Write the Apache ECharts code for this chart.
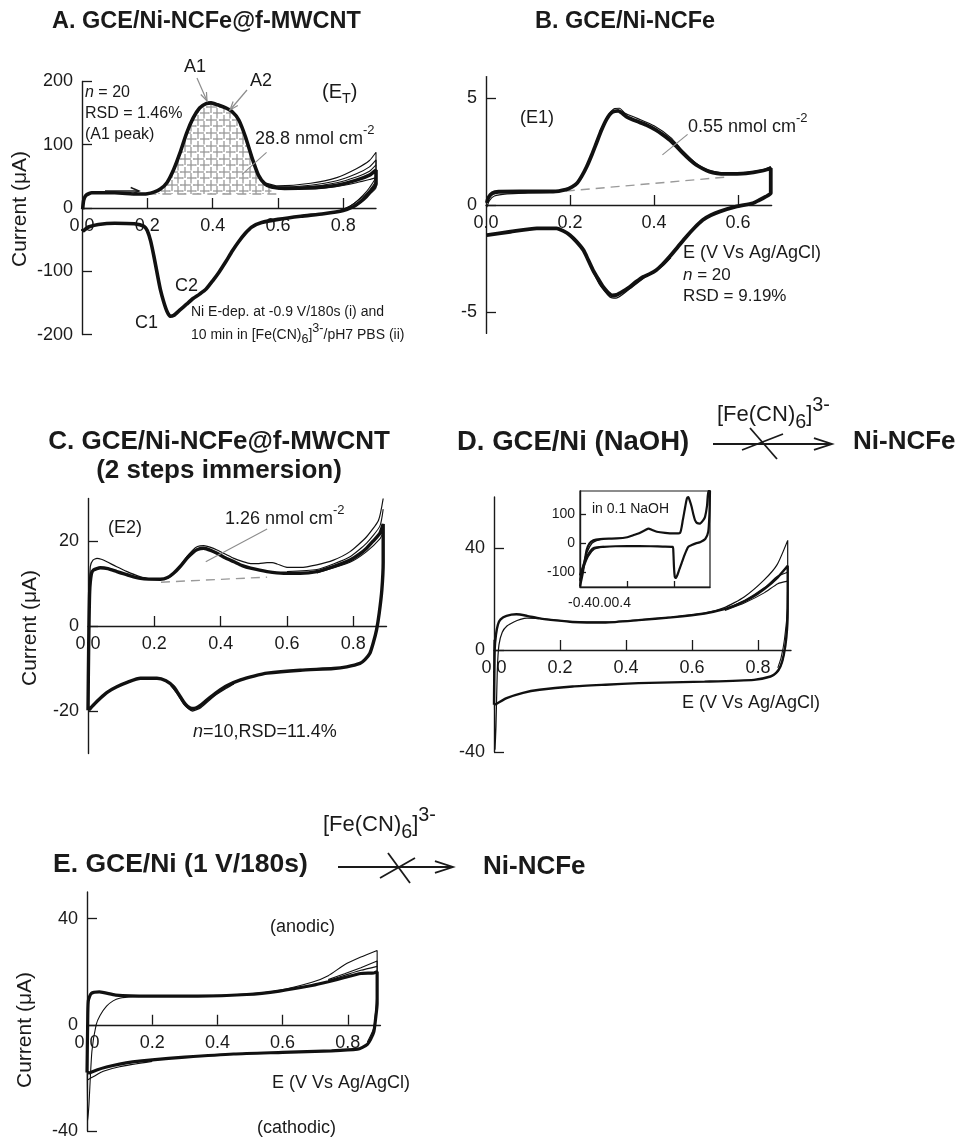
<!DOCTYPE html>
<html><head><meta charset="utf-8">
<script src="https://cdn.jsdelivr.net/npm/echarts@6/dist/echarts.min.js"></script>
<style>html,body{margin:0;padding:0;background:#fff}#c{width:961px;height:1144px}</style>
</head><body><div id="c"></div>
<script>
// ================= DATA =================
// tick values
const xTicks09 = [0.0, 0.2, 0.4, 0.6, 0.8];
const xTicksB = [0.0, 0.2, 0.4, 0.6];
const yTicksA = [-200, -100, 0, 100, 200];
const yTicksB = [-5, 0, 5];
const yTicksC = [-20, 0, 20];
const yTicksD = [-40, 0, 40];
const yTicksE = [-40, 0, 40];
const yTicksInset = [-100, 0, 100];
const xTicksInset = [-0.4, 0.0, 0.4];
const insetXTickText = '-0.40.00.4';

// Panel A  (E [V], I [uA])
const aAnodic = [[0.002,-2],[0.005,12],[0.012,20],[0.03,24],[0.1,24],[0.17,22],[0.2,22.5],[0.22,25],[0.24,30],[0.26,40],[0.28,60],[0.30,87],[0.32,118],[0.34,142],[0.36,158],[0.38,165],[0.395,166],[0.415,163],[0.44,158],[0.46,152],[0.48,139],[0.50,113],[0.52,80],[0.54,52],[0.56,38],[0.58,33],[0.62,31],[0.7,32],[0.78,36],[0.84,44],[0.88,52],[0.9,60]];
const aCathodic = [[0.9,38],[0.885,27],[0.87,18],[0.85,9],[0.83,2],[0.8,-4],[0.74,-9],[0.67,-13],[0.6,-18],[0.55,-23],[0.52,-30],[0.5,-40],[0.48,-53],[0.46,-68],[0.44,-85],[0.42,-101],[0.40,-115],[0.38,-128],[0.36,-136],[0.34,-143],[0.32,-152],[0.30,-161],[0.28,-170],[0.27,-171],[0.26,-163],[0.25,-148],[0.24,-129],[0.23,-103],[0.22,-76],[0.21,-52],[0.2,-36],[0.19,-29],[0.16,-25],[0.1,-24],[0.05,-26],[0.02,-30],[0.002,-37]];
const aTail1 = [[0.56,40],[0.6,35],[0.7,39],[0.78,48],[0.84,62],[0.88,75],[0.9,88],[0.9,50],[0.88,32],[0.86,20],[0.83,6],[0.8,-2]];
const aTail2 = [[0.56,39],[0.6,33],[0.7,36],[0.78,43],[0.84,54],[0.88,65],[0.9,76],[0.9,45],[0.88,28],[0.85,14],[0.82,3],[0.79,-4]];
const aTail3 = [[0.6,32],[0.7,34],[0.78,40],[0.84,49],[0.88,58],[0.9,68]];
const aTail4 = [[0.6,30],[0.7,30],[0.78,34],[0.84,40],[0.88,45],[0.9,48],[0.9,32],[0.88,22]];
const aBaseline = [[0.2,22],[0.6,22]];
const aLeader = [[0.565,88],[0.49,53]];

// Panel B
const bAnodic = [[0.002,0.1],[0.006,0.35],[0.015,0.55],[0.03,0.62],[0.08,0.63],[0.16,0.63],[0.19,0.72],[0.205,0.85],[0.216,1.0],[0.228,1.35],[0.24,1.8],[0.252,2.35],[0.263,2.9],[0.275,3.5],[0.287,4.0],[0.3,4.33],[0.315,4.4],[0.325,4.28],[0.335,4.12],[0.358,3.92],[0.382,3.74],[0.405,3.5],[0.42,3.3],[0.437,3.05],[0.453,2.75],[0.469,2.42],[0.485,2.12],[0.5,1.88],[0.516,1.7],[0.532,1.56],[0.55,1.48],[0.57,1.45],[0.619,1.48],[0.658,1.6],[0.678,1.72]];
const bCathodic = [[0.678,1.2],[0.678,0.55],[0.666,0.39],[0.65,0.22],[0.635,0.08],[0.595,-0.08],[0.556,-0.31],[0.535,-0.48],[0.516,-0.7],[0.497,-1.05],[0.477,-1.48],[0.457,-1.95],[0.437,-2.42],[0.42,-2.78],[0.405,-3.05],[0.39,-3.22],[0.374,-3.36],[0.358,-3.58],[0.342,-3.83],[0.325,-4.05],[0.311,-4.2],[0.3,-4.22],[0.29,-4.08],[0.279,-3.83],[0.267,-3.45],[0.255,-3.05],[0.243,-2.55],[0.232,-2.11],[0.215,-1.7],[0.2,-1.41],[0.185,-1.22],[0.168,-1.09],[0.121,-1.09],[0.058,-1.25],[0.002,-1.41]];
const bPeakVar = [[0.27,3.4],[0.29,4.15],[0.305,4.5],[0.318,4.52],[0.33,4.3],[0.36,4.05],[0.4,3.7],[0.44,3.15],[0.47,2.5],[0.5,1.95],[0.53,1.62],[0.57,1.5],[0.62,1.52],[0.66,1.65],[0.678,1.8]];
const bStartVar = [[0.002,-0.1],[0.008,0.2],[0.02,0.42],[0.05,0.52],[0.1,0.56],[0.17,0.6]];
const bCathVar = [[0.44,-2.45],[0.42,-2.85],[0.38,-3.35],[0.34,-3.95],[0.31,-4.35],[0.295,-4.3],[0.27,-3.7],[0.25,-2.9]];
const bBaseline = [[0.19,0.65],[0.575,1.31]];
const bLeader = [[0.48,3.3],[0.42,2.34]];

// Panel C
const cAnodic = [[0.0,-19.8],[0.002,-5],[0.005,8],[0.01,12.2],[0.017,13.2],[0.037,13.7],[0.06,13.5],[0.087,12.8],[0.12,12],[0.158,11.2],[0.218,11],[0.24,11.4],[0.258,12.4],[0.278,14],[0.298,15.9],[0.315,17.2],[0.33,18],[0.349,18.3],[0.37,17.8],[0.389,17.1],[0.415,16],[0.44,15.1],[0.465,14.2],[0.49,13.6],[0.54,12.8],[0.59,12.4],[0.64,12.4],[0.69,12.8],[0.74,14],[0.79,15.5],[0.82,17],[0.84,18.3],[0.86,20],[0.88,21.8],[0.89,24]];
const cCathodic = [[0.89,24],[0.89,15],[0.886,8.5],[0.878,3],[0.87,-0.9],[0.86,-4],[0.85,-6.4],[0.835,-7.9],[0.82,-8.8],[0.78,-9.6],[0.74,-10],[0.64,-10.4],[0.54,-11.1],[0.5,-11.8],[0.46,-12.7],[0.42,-14],[0.39,-15.5],[0.36,-17.3],[0.34,-18.6],[0.325,-19.3],[0.313,-19.4],[0.3,-18.9],[0.288,-17.8],[0.273,-16],[0.258,-14.3],[0.235,-12.9],[0.208,-12.3],[0.158,-12.3],[0.12,-13.2],[0.087,-14.3],[0.06,-15.5],[0.037,-17],[0.015,-18.7],[0.002,-19.8]];
const cFirst = [[0.003,5],[0.007,14],[0.015,15.5],[0.027,15.9],[0.04,15.7],[0.057,15.1],[0.085,14],[0.118,12.8],[0.15,11.8],[0.188,11],[0.215,11],[0.238,11.2],[0.255,12],[0.268,13.2],[0.283,14.7],[0.298,16.3],[0.315,17.8],[0.33,18.7],[0.349,18.9],[0.37,18.5],[0.389,17.9],[0.415,16.9],[0.44,15.9],[0.465,15.2],[0.49,14.7],[0.515,14.7],[0.54,14.9],[0.555,14.9],[0.57,14.6],[0.6,13.8],[0.64,13.8],[0.69,14.4],[0.74,15.5],[0.79,17.5],[0.84,21],[0.876,24.9],[0.89,30]];
const cTail2 = [[0.6,12.8],[0.69,13.3],[0.74,14.6],[0.79,16.3],[0.84,19.5],[0.88,23.5],[0.89,27.5]];
const cTail3 = [[0.69,12.5],[0.79,15],[0.84,17.5],[0.88,20.5],[0.89,22]];
const cCathVar = [[0.44,-13.6],[0.42,-14.5],[0.38,-16.5],[0.34,-19.2],[0.315,-20],[0.29,-18.5],[0.27,-16],[0.25,-14]];
const cBaseline = [[0.22,10.3],[0.54,11.5]];
const cLeader = [[0.54,22.8],[0.355,15.1]];

// Panel D
const dAnodic = [[0.0,-21.5],[0.002,0],[0.006,6],[0.012,10],[0.02,12],[0.038,13.4],[0.068,14],[0.1,13.4],[0.138,12.4],[0.188,11.6],[0.238,11],[0.338,10.8],[0.438,11.7],[0.538,12.8],[0.638,14.3],[0.698,16],[0.74,18],[0.78,20.5],[0.82,24],[0.86,28.5],[0.89,33]];
const dCathodic = [[0.89,33],[0.89,15],[0.886,5],[0.878,-2],[0.868,-6.5],[0.855,-9],[0.838,-10.4],[0.788,-11.7],[0.638,-12.4],[0.438,-13],[0.338,-13.6],[0.238,-14.3],[0.138,-15.6],[0.088,-16.8],[0.038,-18.9],[0.003,-21.5]];
const dFirst = [[0.0,4],[0.003,-39],[0.006,-30],[0.01,-8],[0.015,2],[0.025,7],[0.04,9.5],[0.06,11],[0.08,12],[0.1,12.5],[0.138,12.4],[0.238,11.1],[0.338,10.9],[0.438,11.8],[0.538,12.9],[0.638,14.5],[0.698,16.6],[0.758,20.8],[0.818,27.4],[0.858,33.5],[0.89,43],[0.89,30],[0.885,5],[0.875,-4],[0.86,-8.5],[0.84,-10.3]];
const dTail2 = [[0.7,16],[0.76,19.5],[0.82,24.5],[0.86,29],[0.89,30.5]];
const dTail3 = [[0.7,15.5],[0.76,18.5],[0.82,22.5],[0.86,26],[0.89,27],[0.89,18],[0.88,4],[0.87,-3],[0.86,-7]];

// Panel D inset (in 0.1 NaOH)
const iAnodic = [[-0.4,-148],[-0.38,-110],[-0.36,-60],[-0.344,-23],[-0.32,0],[-0.287,11],[-0.23,15],[-0.09,17],[0.0,21],[0.05,28],[0.1,35],[0.15,45],[0.18,51],[0.21,46],[0.25,40],[0.32,36],[0.39,34],[0.446,36],[0.47,80],[0.49,125],[0.505,155],[0.517,159],[0.53,145],[0.545,125],[0.56,98],[0.573,80],[0.59,70],[0.615,68],[0.64,78],[0.658,91],[0.675,130],[0.686,180]];
const iCathodic = [[0.7,180],[0.695,100],[0.685,40],[0.66,15],[0.62,5],[0.58,0],[0.545,-6],[0.517,-12],[0.5,-25],[0.48,-45],[0.46,-68],[0.44,-90],[0.425,-108],[0.41,-119],[0.402,-115],[0.395,-80],[0.39,-30],[0.385,-12],[0.3,-11],[0.1,-9],[-0.1,-10],[-0.2,-12],[-0.28,-15],[-0.31,-25],[-0.34,-45],[-0.37,-75],[-0.4,-110]];
const iVarA = [[-0.4,-130],[-0.37,-70],[-0.34,-30],[-0.3,0],[-0.26,10],[-0.2,14]];
const iVarC = [[-0.2,-11],[-0.28,-20],[-0.33,-45],[-0.37,-85],[-0.4,-125]];

// Panel E
const eAnodic = [[0.0,-18],[0.002,0],[0.004,9],[0.013,11.8],[0.038,12.4],[0.088,11.2],[0.19,10.8],[0.34,10.8],[0.49,11.4],[0.59,12.7],[0.69,14.8],[0.74,16.2],[0.79,17.8],[0.84,19.3],[0.88,19.5],[0.89,20]];
const eCathodic = [[0.89,20],[0.89,8],[0.885,2],[0.88,-2.6],[0.87,-5.5],[0.86,-7.4],[0.845,-8.5],[0.83,-9.2],[0.75,-9.8],[0.6,-10.4],[0.45,-11],[0.3,-12.2],[0.2,-13.2],[0.14,-14],[0.1,-14.8],[0.06,-15.9],[0.03,-17],[0.003,-18.3]];
const eFirst = [[0.0,0],[0.002,-36],[0.006,-30],[0.015,-10],[0.028,0],[0.04,3.5],[0.06,7],[0.08,9],[0.1,10],[0.14,10.6],[0.19,10.8],[0.34,10.9],[0.49,11.6],[0.59,13],[0.69,16],[0.74,18.5],[0.79,22.6],[0.84,25.5],[0.89,28],[0.89,15],[0.88,-1],[0.86,-6.5]];
const eTail2 = [[0.74,17],[0.79,19.2],[0.84,21.5],[0.89,24],[0.89,10]];
const eTail3 = [[0.74,16.7],[0.79,18.6],[0.84,20.5],[0.89,22]];
const eCathVar = [[0.2,-13.8],[0.1,-15.8],[0.05,-17.5],[0.02,-19.5],[0.003,-20.7]];

// ================= CHART =================
const FONT = '"Liberation Sans", Arial, Helvetica, sans-serif';
const INK = '#1a1a1a';
const GRAY = '#8c8c8c';
const chart = echarts.init(document.getElementById('c'), null, {renderer: 'canvas'});

function hatchPattern() {
  const c = document.createElement('canvas'); c.width = 13; c.height = 13;
  const g = c.getContext('2d');
  g.strokeStyle = '#9a9a9a'; g.lineWidth = 1.3;
  const segs = [[3,0,3,9],[0,3,9,3],[9,4,9,13],[5,9,13,9],[9,0,9,1.5],[11,3,13,3],[3,11,3,13],[0,9,1.5,9]];
  segs.forEach(s => { g.beginPath(); g.moveTo(s[0], s[1]); g.lineTo(s[2], s[3]); g.stroke(); });
  return c;
}

const layout = [
  {left: 82,  top: 81.4, width: 294, height: 253.2},   // A
  {left: 486, top: 76.6, width: 285.6, height: 256.8}, // B
  {left: 88,  top: 498.5, width: 298.5, height: 255},  // C
  {left: 494, top: 497, width: 297, height: 255},      // D
  {left: 87,  top: 892, width: 293.4, height: 239},    // E
  {left: 580, top: 491, width: 130, height: 96, show: true, borderColor: INK, borderWidth: 1.2, backgroundColor: '#fff'} // inset
];
const grids = layout.map(g => Object.assign({outerBoundsMode: 'none', containLabel: false}, g));
const yRanges = [[-200, 200], [-6, 6], [-30, 30], [-40, 60], [-40, 50], [-150, 180]];

function xAx(gi, min, max, labels, ticks, show) {
  const yr = yRanges[gi];
  // move the whole x axis (line, ticks, labels) up to the I = 0 level
  const off = gi === 5 ? 0 : -layout[gi].height * (0 - yr[0]) / (yr[1] - yr[0]);
  return {type: 'value', gridIndex: gi, min, max, position: 'bottom', offset: off,
    axisLine: {onZero: false, lineStyle: {color: INK, width: 1.4}},
    axisTick: {inside: true, length: gi === 5 ? 6 : 10, customValues: ticks, lineStyle: {color: INK, width: 1.3}},
    axisLabel: {show: show !== false, customValues: labels, formatter: v => v.toFixed(1), fontSize: 18, fontFamily: FONT, color: INK, margin: 9},
    splitLine: {show: false}};
}
function yAx(gi, ticks, fs) {
  return {type: 'value', gridIndex: gi, min: yRanges[gi][0], max: yRanges[gi][1],
    axisLine: {onZero: false, lineStyle: {color: INK, width: 1.4}},
    axisTick: {inside: true, length: gi === 5 ? 6 : 10, customValues: ticks, lineStyle: {color: INK, width: 1.3}},
    axisLabel: {customValues: ticks, formatter: v => String(v), fontSize: fs || 18, fontFamily: FONT, color: INK, margin: gi === 5 ? 5 : 9},
    splitLine: {show: false}};
}

const xAxes = [
  xAx(0, 0, 0.9, xTicks09, xTicks09.slice(1)),
  xAx(1, 0, 0.68, xTicksB, xTicksB.slice(1)),
  xAx(2, 0, 0.9, xTicks09, xTicks09.slice(1)),
  xAx(3, 0, 0.9, xTicks09, xTicks09.slice(1)),
  xAx(4, 0, 0.9, xTicks09, xTicks09.slice(1)),
  xAx(5, -0.4, 0.7, xTicksInset, xTicksInset, false)
];
const yAxes = [
  yAx(0, yTicksA), yAx(1, yTicksB), yAx(2, yTicksC), yAx(3, yTicksD), yAx(4, yTicksE), yAx(5, yTicksInset, 14)
];

function L(gi, data, w, extra) {
  return Object.assign({type: 'line', xAxisIndex: gi, yAxisIndex: gi, data, showSymbol: false, symbol: 'none',
    smooth: 0.2, lineStyle: {color: '#111', width: w}, silent: true, z: 3}, extra || {});
}
function dashed(gi, data) { return L(gi, data, 1.4, {smooth: false, lineStyle: {color: '#9a9a9a', width: 1.4, type: [9, 6]}, z: 2}); }
function leader(gi, data) { return L(gi, data, 1.1, {smooth: false, lineStyle: {color: GRAY, width: 1.1}, z: 4}); }

const hatchData = aAnodic.filter(p => p[0] >= 0.2 && p[0] <= 0.6);
const series = [
  // A
  L(0, hatchData, 0, {lineStyle: {width: 0, opacity: 0}, areaStyle: {color: {image: hatchPattern(), repeat: 'repeat'}, origin: aBaseline[0][1], opacity: 1}, z: 1}),
  dashed(0, aBaseline),
  L(0, aTail1, 1.1), L(0, aTail2, 1.1), L(0, aTail3, 1.1), L(0, aTail4, 1.1),
  L(0, aAnodic.concat(aCathodic), 3.6),
  leader(0, aLeader),
  // B
  dashed(1, bBaseline),
  L(1, bAnodic.concat(bCathodic), 3.8), L(1, bPeakVar, 1.2), L(1, bStartVar, 1.2), L(1, bCathVar, 1.4),
  leader(1, bLeader),
  // C
  dashed(2, cBaseline),
  L(2, cAnodic.concat(cCathodic), 3.4), L(2, cFirst, 1.2), L(2, cTail2, 1.1), L(2, cTail3, 1.1), L(2, cCathVar, 1.4),
  leader(2, cLeader),
  // D
  L(3, dAnodic.concat(dCathodic), 2.4), L(3, dFirst, 1.2), L(3, dTail2, 1.1), L(3, dTail3, 1.1),
  // inset
  L(5, iAnodic.concat(iCathodic), 2.2, {z: 6}), L(5, iVarA, 1.5, {z: 6}), L(5, iVarC, 1.5, {z: 6}),
  // E
  L(4, eAnodic.concat(eCathodic), 3.2), L(4, eFirst, 1.1), L(4, eTail2, 1.1), L(4, eTail3, 1.1), L(4, eCathVar, 1.2)
];

// ---------- annotation helpers ----------
const mctx = document.createElement('canvas').getContext('2d');
function runs(x, y, parts, size, opts) {
  opts = opts || {};
  const weight = opts.bold ? 'bold ' : '';
  const sc = opts.scriptScale || 0.72;
  const items = parts.map(p => {
    const [t, k] = typeof p === 'string' ? [p, 'n'] : p;
    let fs = size, dy = 0, st = 'normal';
    if (k === 'sub') { fs = size * sc; dy = size * 0.33; }
    if (k === 'sup') { fs = size * sc; dy = -size * 0.45; }
    if (k === 'i') st = 'italic';
    const font = st + ' ' + weight + fs.toFixed(1) + 'px ' + FONT;
    mctx.font = font;
    return {t, font, dy, w: mctx.measureText(t).width};
  });
  const total = items.reduce((s, it) => s + it.w, 0);
  let cx = opts.center ? x - total / 2 : x;
  return items.map(it => {
    const el = {type: 'text', x: cx, y: y + it.dy, silent: true, z: 20,
      style: {text: it.t, font: it.font, fill: INK, textAlign: 'left', textVerticalAlign: 'middle'}};
    cx += it.w;
    return el;
  });
}
function vtext(x, y, t, size) {
  return {type: 'text', x, y, rotation: Math.PI / 2, silent: true, z: 20,
    style: {text: t, font: size + 'px ' + FONT, fill: INK, textAlign: 'center', textVerticalAlign: 'middle'}};
}
function seg(x1, y1, x2, y2, color, w) {
  return {type: 'line', shape: {x1, y1, x2, y2}, style: {stroke: color, lineWidth: w}, silent: true, z: 20};
}
function arrow(x1, y1, x2, y2, color, w, len, half) {
  const a = Math.atan2(y2 - y1, x2 - x1);
  const p1 = [x2 + len * Math.cos(a + Math.PI - half), y2 + len * Math.sin(a + Math.PI - half)];
  const p2 = [x2 + len * Math.cos(a + Math.PI + half), y2 + len * Math.sin(a + Math.PI + half)];
  return [seg(x1, y1, x2, y2, color, w),
    {type: 'polyline', shape: {points: [p1, [x2, y2], p2]}, style: {stroke: color, lineWidth: w, fill: 'none'}, silent: true, z: 20}];
}

const g = [].concat(
  // Titles
  runs(52, 22, ['A. GCE/Ni-NCFe@f-MWCNT'], 23.5, {bold: true}),
  runs(535, 22, ['B. GCE/Ni-NCFe'], 23.5, {bold: true}),
  runs(219, 442, ['C. GCE/Ni-NCFe@f-MWCNT'], 26, {bold: true, center: true}),
  runs(219, 471, ['(2 steps immersion)'], 26, {bold: true, center: true}),
  runs(457, 442, ['D. GCE/Ni (NaOH)'], 27.5, {bold: true}),
  runs(853, 442, ['Ni-NCFe'], 26, {bold: true}),
  runs(717, 415, ['[Fe(CN)', ['6', 'sub'], ']', ['3-', 'sup']], 22, {scriptScale: 0.9}),
  arrow(713, 444, 832, 444, INK, 1.8, 19, 0.32),
  [seg(750, 428, 777, 459, INK, 1.8), seg(742, 450, 783, 434, INK, 1.8)],
  runs(53, 865, ['E. GCE/Ni (1 V/180s)'], 26.5, {bold: true}),
  runs(483, 867, ['Ni-NCFe'], 26, {bold: true}),
  runs(323, 825, ['[Fe(CN)', ['6', 'sub'], ']', ['3-', 'sup']], 22, {scriptScale: 0.9}),
  arrow(338, 867, 453, 867, INK, 1.8, 19, 0.32),
  [seg(380, 878, 415, 858, INK, 1.8), seg(388, 853, 410, 883, INK, 1.8)],
  // axis names
  [vtext(20, 209, 'Current (\u03BCA)', 21), vtext(30, 628, 'Current (\u03BCA)', 21), vtext(25, 1030, 'Current (\u03BCA)', 21)],
  // Panel A
  runs(85, 93, [['n', 'i'], ' = 20'], 16),
  runs(85, 114, ['RSD = 1.46%'], 16),
  runs(85, 135, ['(A1 peak)'], 16),
  runs(184, 67, ['A1'], 18),
  runs(250, 81, ['A2'], 18),
  runs(322, 92, ['(E', ['T', 'sub'], ')'], 20),
  runs(255, 139, ['28.8 nmol cm', ['-2', 'sup']], 18),
  runs(175, 286, ['C2'], 18),
  runs(135, 323, ['C1'], 18),
  runs(191, 312, ['Ni E-dep. at -0.9 V/180s (i) and'], 14),
  runs(191, 335, ['10 min in [Fe(CN)', ['6', 'sub'], ']', ['3-', 'sup'], '/pH7 PBS (ii)'], 14, {scriptScale: 0.9}),
  arrow(105, 191, 139, 191, INK, 1.5, 9, 0.4),
  arrow(197, 78, 207, 101, GRAY, 1.2, 9, 0.35),
  arrow(247, 90, 230, 110, GRAY, 1.2, 9, 0.35),
  // Panel B
  runs(520, 118, ['(E1)'], 18),
  runs(688, 127, ['0.55 nmol cm', ['-2', 'sup']], 18),
  runs(683, 253, ['E (V Vs Ag/AgCl)'], 18),
  runs(683, 275, [['n', 'i'], ' = 20'], 17),
  runs(683, 296, ['RSD = 9.19%'], 17),
  // Panel C
  runs(108, 528, ['(E2)'], 18),
  runs(225, 519, ['1.26 nmol cm', ['-2', 'sup']], 18),
  runs(193, 732, [['n', 'i'], '=10,RSD=11.4%'], 18),
  // Panel D
  runs(592, 509, ['in 0.1 NaOH'], 14),
  runs(568, 603, [insetXTickText], 14),
  runs(682, 703, ['E (V Vs Ag/AgCl)'], 18),
  // Panel E
  runs(270, 927, ['(anodic)'], 18),
  runs(257, 1128, ['(cathodic)'], 18),
  runs(272, 1083, ['E (V Vs Ag/AgCl)'], 18)
);

chart.setOption({
  animation: false,
  backgroundColor: '#fff',
  textStyle: {fontFamily: FONT},
  grid: grids,
  xAxis: xAxes,
  yAxis: yAxes,
  series,
  graphic: {elements: g}
});
</script>
</body></html>
